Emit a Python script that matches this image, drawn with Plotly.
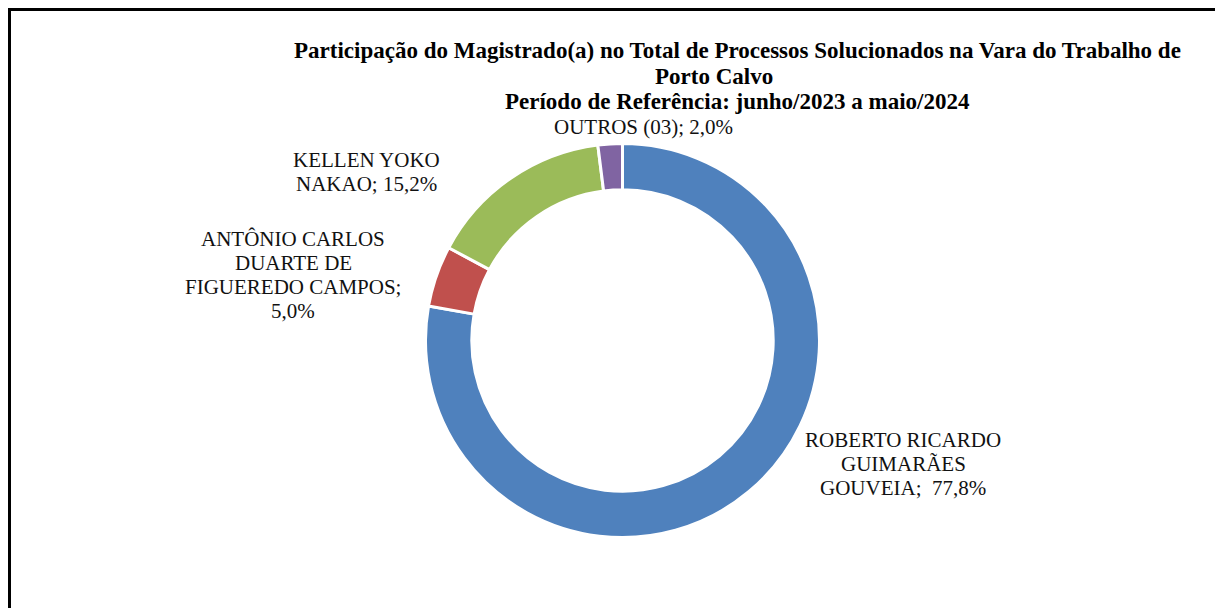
import plotly.graph_objects as go

# ---- data ----
names = ["ROBERTO RICARDO GUIMARÃES GOUVEIA",
         "ANTÔNIO CARLOS DUARTE DE FIGUEREDO CAMPOS",
         "KELLEN YOKO NAKAO",
         "OUTROS (03)"]
shares = [77.8, 5.0, 15.2, 2.0]
colors = ["#4F81BD", "#C0504D", "#9BBB59", "#8064A2"]

title_lines = ["Participação do Magistrado(a) no Total de Processos Solucionados na Vara do Trabalho de",
               "Porto Calvo",
               "Período de Referência: junho/2023 a maio/2024"]

# label line breaking (as in the reference)
label_lines = [
    ["ROBERTO RICARDO", "GUIMARÃES", "GOUVEIA;  {v}%"],
    ["ANTÔNIO CARLOS", "DUARTE DE", "FIGUEREDO CAMPOS;", "{v}%"],
    ["KELLEN YOKO", "NAKAO; {v}%"],
    ["OUTROS (03); {v}%"],
]
# label anchor positions in pixels (center x, first line center y)
label_pos = [(903, 440), (293, 239), (366, 160), (643, 127)]
LINE_H = 24

W, H = 1215, 608


def px(x):
    return x / W


def py(y):
    return 1 - y / H


fig = go.Figure()
fig.add_trace(go.Pie(
    labels=names,
    values=shares,
    hole=0.765,
    sort=False,
    direction="clockwise",
    rotation=0,
    marker=dict(colors=colors, line=dict(color="white", width=3)),
    textinfo="none",
    hoverinfo="label+percent",
    showlegend=False,
    domain=dict(x=[px(425.5), px(819.5)], y=[py(537.5), py(143.5)]),
))

annotations = []
for i, lines in enumerate(label_lines):
    cx, cy = label_pos[i]
    val = f"{shares[i]:.1f}".replace(".", ",")
    for j, ln in enumerate(lines):
        annotations.append(dict(
            x=px(cx), y=py(cy + j * LINE_H), xref="paper", yref="paper",
            text=ln.format(v=val).replace("  ", "&nbsp; "), showarrow=False,
            xanchor="center", yanchor="middle",
            font=dict(family="Liberation Serif, Times New Roman, serif", size=21, color="#111111"),
        ))

title_y = [51, 76, 101]
title_x = [737, 714, 737]
for t, ty, tx in zip(title_lines, title_y, title_x):
    annotations.append(dict(
        x=px(tx), y=py(ty), xref="paper", yref="paper",
        text=f"<b>{t}</b>", showarrow=False, xanchor="center", yanchor="middle",
        font=dict(family="Liberation Serif, Times New Roman, serif", size=23, color="#000000"),
    ))

shapes = [
    dict(type="line", xref="paper", yref="paper", x0=px(8), x1=px(1215), y0=py(9.5), y1=py(9.5),
         line=dict(color="black", width=3)),
    dict(type="line", xref="paper", yref="paper", x0=px(9.5), x1=px(9.5), y0=py(8), y1=py(608),
         line=dict(color="black", width=3)),
]

fig.update_layout(
    width=W, height=H,
    margin=dict(l=0, r=0, t=0, b=0),
    paper_bgcolor="white", plot_bgcolor="white",
    annotations=annotations,
    shapes=shapes,
)

fig.write_html("out.html", config={"displayModeBar": False},
               post_script="document.body.style.margin='0';document.body.style.overflow='hidden';")
